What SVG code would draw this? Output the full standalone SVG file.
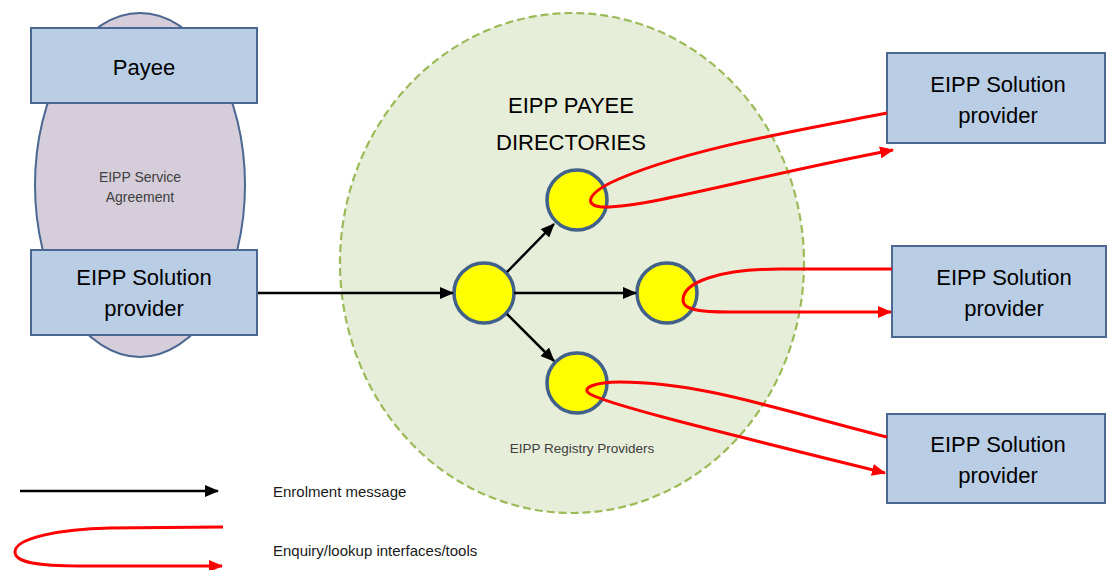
<svg xmlns="http://www.w3.org/2000/svg" width="1107" height="570" viewBox="0 0 1107 570">
<style>
.box{fill:#B9CDE5;stroke:#4A6892;stroke-width:2}
.node{fill:#FFFF00;stroke:#41608A;stroke-width:3.5}
.bt{font-family:"Liberation Sans",Arial,sans-serif;font-size:22px;fill:#000;text-anchor:middle}
.st{font-family:"Liberation Sans",Arial,sans-serif;fill:#404040;text-anchor:middle}
.lt{font-family:"Liberation Sans",Arial,sans-serif;font-size:15px;fill:#1a1a1a}
.blk{fill:none;stroke:#000;stroke-width:2.5;marker-end:url(#ab)}
.red{fill:none;stroke:#FF0000;stroke-width:3;marker-end:url(#ar)}
</style>
<defs>
<marker id="ab" markerWidth="14" markerHeight="12" refX="13" refY="6" orient="auto" markerUnits="userSpaceOnUse"><path d="M0,0 L14,6 L0,12 z" fill="#000"/></marker>
<marker id="ar" markerWidth="14" markerHeight="12" refX="13" refY="6" orient="auto" markerUnits="userSpaceOnUse"><path d="M0,0 L14,6 L0,12 z" fill="#FF0000"/></marker>
</defs>
<rect width="1107" height="570" fill="#fff"/>
<g id="agreement">
<ellipse cx="140" cy="185" rx="105" ry="172" fill="#D5CDD9" stroke="#4A6892" stroke-width="2"/>
<text class="st" font-size="14" x="140" y="182">EIPP Service</text>
<text class="st" font-size="14" x="140" y="202">Agreement</text>
</g>
<g id="directories">
<ellipse cx="572" cy="263" rx="232" ry="250" fill="#E6EDD9" stroke="#9BBB59" stroke-width="2.2" stroke-dasharray="8,4"/>
<text class="bt" font-size="23" x="571" y="113">EIPP PAYEE</text>
<text class="bt" font-size="23" x="571" y="150">DIRECTORIES</text>
<text class="st" font-size="13.5" x="582" y="453">EIPP Registry Providers</text>
</g>
<g id="payee">
<rect class="box" x="31" y="28" width="226" height="75"/>
<text class="bt" x="144" y="75">Payee</text>
</g>
<g id="provider-left">
<rect class="box" x="31" y="250" width="226" height="85"/>
<text class="bt" x="144" y="285">EIPP Solution</text>
<text class="bt" x="144" y="316">provider</text>
</g>
<g id="provider-top">
<rect class="box" x="887" y="53" width="218" height="90"/>
<text class="bt" x="998" y="92">EIPP Solution</text>
<text class="bt" x="998" y="123">provider</text>
</g>
<g id="provider-mid">
<rect class="box" x="892" y="246" width="214" height="91"/>
<text class="bt" x="1004" y="285">EIPP Solution</text>
<text class="bt" x="1004" y="316">provider</text>
</g>
<g id="provider-bot">
<rect class="box" x="887" y="414" width="218" height="89"/>
<text class="bt" x="998" y="452">EIPP Solution</text>
<text class="bt" x="998" y="483">provider</text>
</g>
<g id="node-center"><circle class="node" cx="484" cy="293" r="30"/></g>
<g id="node-top"><circle class="node" cx="577" cy="200" r="30"/></g>
<g id="node-mid"><circle class="node" cx="667" cy="293" r="30"/></g>
<g id="node-bot"><circle class="node" cx="577" cy="383" r="30"/></g>
<g id="connectors">
<path class="blk" d="M258,293 L453,293"/>
<path class="blk" d="M507,272 L554,224"/>
<path class="blk" d="M514,293 L636,293"/>
<path class="blk" d="M507,314 L554,361"/>
<path class="red" d="M887,113 C800,130 680,150 610,183 C585,196 585,207 605,207 C650,207 760,175 893,150"/>
<path class="red" d="M892,269 L780,269 C720,269 683,282 683,300 C683,310 700,312 730,312 L891,312"/>
<path class="red" d="M887,437 C780,410 700,382 620,382 C595,382 580,388 590,394 C610,405 700,427 885,473"/>
</g>
<g id="legend">
<path class="blk" d="M20,491 L218,491"/>
<text class="lt" x="273" y="497">Enrolment message</text>
<path class="red" d="M223,527 L110,528 C60,529 15,538 15,552 C15,563 40,566 80,566 L222,566"/>
<text class="lt" x="273" y="556">Enquiry/lookup interfaces/tools</text>
</g>
</svg>
